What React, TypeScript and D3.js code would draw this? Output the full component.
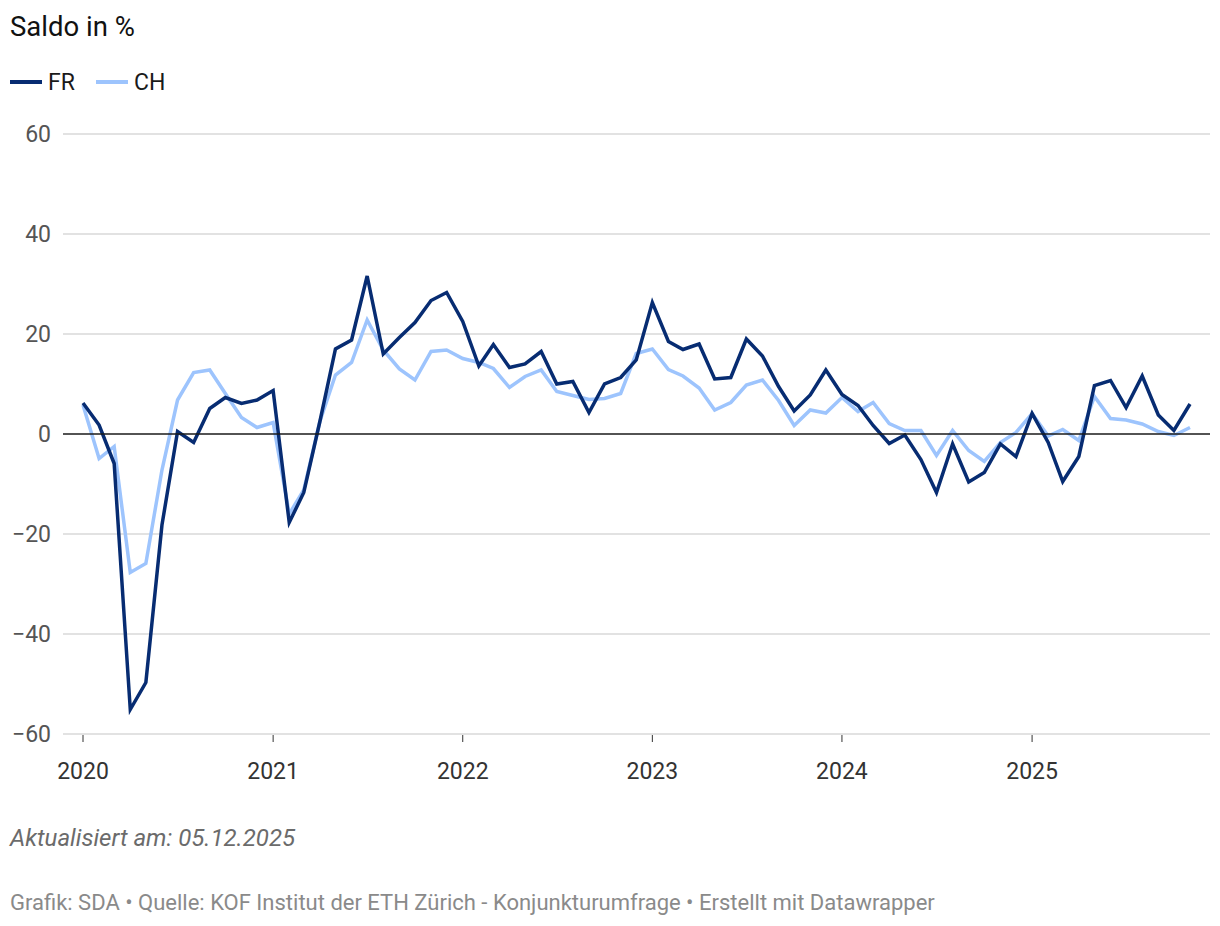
import * as d3 from "d3";

// Monthly KOF survey balance, Jan 2020 – Nov 2025
const START = new Date(2020, 0, 1);

const FR = [
  6.2, 1.8, -5.9, -55.1, -49.7, -18.2, 0.5, -1.7, 5.1, 7.3, 6.1, 6.8,
  8.7, -17.7, -11.7, 2.5, 17.0, 18.8, 31.6, 16.0, 19.3, 22.3, 26.7, 28.3,
  22.5, 13.6, 17.9, 13.3, 14.0, 16.5, 10.0, 10.5, 4.3, 10.0, 11.3, 14.8,
  26.3, 18.5, 16.9, 18.0, 11.0, 11.3, 19.0, 15.6, 9.5, 4.6, 7.8, 12.8,
  7.9, 5.7, 1.7, -1.9, -0.2, -5.1, -11.7, -2.0, -9.6, -7.7, -2.0, -4.5,
  4.1, -1.7, -9.5, -4.5, 9.7, 10.7, 5.3, 11.6, 3.8, 0.7, 6.0,
];

const CH = [
  5.8, -4.9, -2.5, -27.7, -25.9, -7.2, 6.8, 12.3, 12.8, 8.1, 3.3, 1.3,
  2.3, -16.0, -11.2, 2.5, 11.8, 14.3, 22.8, 16.8, 13.0, 10.8, 16.5, 16.8,
  15.1, 14.3, 13.1, 9.3, 11.5, 12.8, 8.5, 7.7, 6.9, 7.1, 8.1, 16.1,
  17.0, 12.9, 11.6, 9.2, 4.8, 6.3, 9.8, 10.8, 6.7, 1.7, 4.8, 4.2,
  7.3, 4.5, 6.3, 2.1, 0.7, 0.7, -4.3, 0.7, -3.3, -5.5, -1.7, 0.3,
  4.1, -0.4, 0.9, -1.3, 7.5, 3.1, 2.8, 2.0, 0.5, -0.3, 1.3,
];

const Y_TICKS = [-60, -40, -20, 0, 20, 40, 60];
const X_TICK_YEARS = [2020, 2021, 2022, 2023, 2024, 2025];

const SERIES = [
  { name: "FR", values: FR, color: "#072c72" },
  { name: "CH", values: CH, color: "#9dc4fd" },
];

const FONT = "Roboto, 'Noto Sans', sans-serif";

export default function App() {
  const width = 1220;
  const height = 926;

  const months = FR.map((_, i) => d3.timeMonth.offset(START, i));

  const x = d3.scaleTime()
    .domain([months[0], months[months.length - 1]])
    .range([83, 1190]);

  const y = d3.scaleLinear().domain([-60, 60]).range([734, 134]);

  const line = d3.line<number>()
    .x((_, i) => x(months[i]))
    .y((d) => y(d));

  const gridX0 = 63;
  const gridX1 = 1210;

  return (
    <div style={{ position: "absolute", left: 0, top: 0 }}>
      <svg width={width} height={height} style={{ display: "block", background: "#fff" }}>
        {/* title */}
        <text x={10} y={36} fontSize={27.5} fontFamily={FONT} fill="#111">Saldo in %</text>

        {/* legend */}
        {SERIES.map((s, i) => {
          const lx = 10 + i * 86;
          return (
            <g key={s.name}>
              <line x1={lx} x2={lx + 32} y1={82} y2={82} stroke={s.color} strokeWidth={4} />
              <text x={lx + 38} y={90} fontSize={23} fontFamily={FONT} fill="#1a1a1a">{s.name}</text>
            </g>
          );
        })}

        {/* gridlines */}
        {Y_TICKS.filter((t) => t !== 0).map((t) => (
          <line key={t} x1={gridX0} x2={gridX1} y1={y(t)} y2={y(t)} stroke="#d9d9d9" strokeWidth={1.5} />
        ))}
        {Y_TICKS.map((t) => (
          <text key={`l${t}`} x={51} y={y(t) + 8} textAnchor="end" fontSize={23}
            fontFamily={FONT} fill="#555">
            {t < 0 ? `\u2212${Math.abs(t)}` : t}
          </text>
        ))}

        {/* x ticks */}
        {X_TICK_YEARS.map((yr) => {
          const xx = x(new Date(yr, 0, 1));
          return (
            <g key={yr}>
              <line x1={xx} x2={xx} y1={735} y2={742} stroke="#333" strokeWidth={1} />
              <text x={xx} y={779} textAnchor="middle" fontSize={23} fontFamily={FONT} fill="#333">{yr}</text>
            </g>
          );
        })}

        {/* series */}
        {SERIES.slice().reverse().map((s) => (
          <path key={s.name} d={line(s.values) ?? ""} fill="none" stroke={s.color}
            strokeWidth={3.5} strokeLinejoin="miter" strokeLinecap="butt" />
        ))}

        {/* zero line */}
        <line x1={gridX0} x2={gridX1} y1={y(0)} y2={y(0)} stroke="#1a1a1a" strokeWidth={1.5} />

        {/* footer */}
        <text x={10} y={846} fontSize={24} fontStyle="italic" fontFamily={FONT} fill="#6b6b6b">
          Aktualisiert am: 05.12.2025
        </text>
        <text x={10} y={910} fontSize={22} fontFamily={FONT} fill="#8a8a8a">
          Grafik: SDA • Quelle: KOF Institut der ETH Zürich - Konjunkturumfrage • Erstellt mit Datawrapper
        </text>
      </svg>
    </div>
  );
}
